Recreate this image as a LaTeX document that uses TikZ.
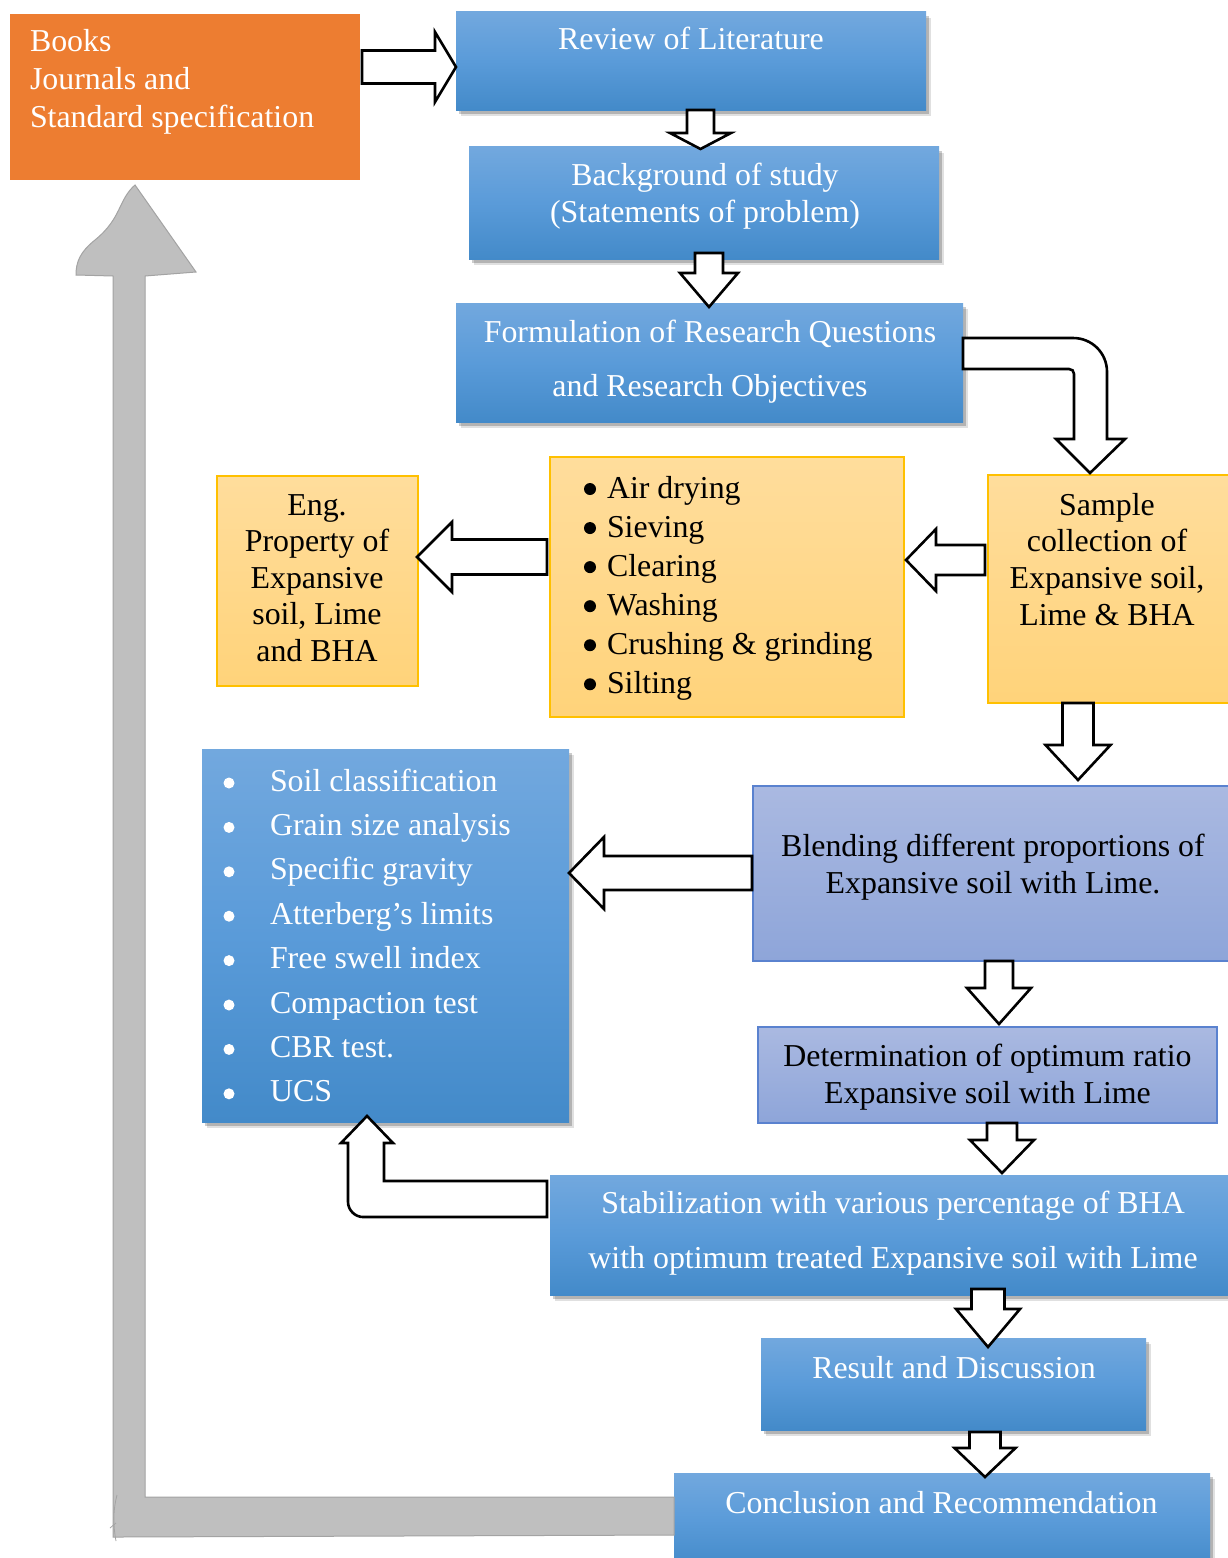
\documentclass[tikz,border=0pt]{standalone}
\usepackage{fontspec}
\setmainfont{Liberation Serif}
\usetikzlibrary{shadows,calc}
\definecolor{orng}{HTML}{ED7D31}
\definecolor{bltop}{HTML}{72A8DE}
\definecolor{blmid}{HTML}{5A9BD9}
\definecolor{blbot}{HTML}{438AC9}
\definecolor{yltop}{HTML}{FFDD9C}
\definecolor{ylbot}{HTML}{FFD37A}
\definecolor{ylborder}{HTML}{FFC000}
\definecolor{pptop}{HTML}{AAB9E1}
\definecolor{ppbot}{HTML}{8EA5D9}
\definecolor{ppborder}{HTML}{5A82CF}
\definecolor{gfill}{HTML}{BFBFBF}
\definecolor{gline}{HTML}{A3A3A3}
\newcommand\firstln{\rule{0pt}{24bp}}
\newcommand\bdot{\tikz[baseline=0pt]\fill (0pt,9bp) circle[radius=6bp];}
\newcommand\wdot{\tikz[baseline=0pt]\fill[white] (0pt,8bp) circle[radius=5.5bp];}
\newcommand\dnblock[8]{%
 \draw[blockarrow] let \p1=(#1.south), \p2=(#2.north) in
  ({(#3-#4)*1bp},{\y1-(#7)*1bp}) -- ({(#3+#4)*1bp},{\y1-(#7)*1bp})
  -- ({(#3+#4)*1bp},{\y2-(#8-#6)*1bp}) -- ({(#3+#5)*1bp},{\y2-(#8-#6)*1bp})
  -- ({#3*1bp},{\y2-(#8)*1bp}) -- ({(#3-#5)*1bp},{\y2-(#8-#6)*1bp})
  -- ({(#3-#4)*1bp},{\y2-(#8-#6)*1bp}) -- cycle;}
\newcommand\lfblock[8]{%
 \draw[blockarrow] let \p1=(#1.west), \p2=(#2.east) in
  ({\x1-(#7)*1bp},{-(#3-#4)*1bp}) -- ({\x2+(#8+#6)*1bp},{-(#3-#4)*1bp})
  -- ({\x2+(#8+#6)*1bp},{-(#3-#5)*1bp}) -- ({\x2+(#8)*1bp},{-(#3)*1bp})
  -- ({\x2+(#8+#6)*1bp},{-(#3+#5)*1bp}) -- ({\x2+(#8+#6)*1bp},{-(#3+#4)*1bp})
  -- ({\x1-(#7)*1bp},{-(#3+#4)*1bp}) -- cycle;}
\begin{document}
\begin{tikzpicture}[x=1bp,y=-1bp,
  box/.style={inner sep=0pt, outer sep=0pt},
  bluebox/.style={box, top color=bltop, bottom color=blbot, middle color=blmid,
     general shadow={shadow xshift=5bp, shadow yshift=-6bp, opacity=0.12, fill=black},
     general shadow={shadow xshift=3bp, shadow yshift=-4bp, opacity=0.2, fill=black}},
  orangebox/.style={box, fill=orng},
  yellowbox/.style={box, top color=yltop, bottom color=ylbot, draw=ylborder, line width=1.5bp},
  purplebox/.style={box, top color=pptop, bottom color=ppbot, draw=ppborder, line width=1.2bp},
  txt/.style={inner sep=0pt, outer sep=0pt, font=\fontsize{32}{38}\selectfont},
  wtext/.style={txt, text=white},
  ktext/.style={txt, text=black},
  blockarrow/.style={draw=black, line width=2.6bp, fill=white, line join=miter},
  grayarrow/.style={draw=gline, line width=1bp, fill=gfill}]
\useasboundingbox (0,0) rectangle (1227,1558);
\fill[white] (0,0) rectangle (1227,1558);

% boxes
\node[orangebox, minimum width=350bp, minimum height=166bp] (books) at (185,97) {};
\node[bluebox, minimum width=470bp, minimum height=98bp] (rev) at (691,61) {};
\node[bluebox, minimum width=470bp, minimum height=112bp] (bg) at (704,203) {};
\node[bluebox, minimum width=507bp, minimum height=119bp] (form) at (709.5,362.5) {};
\node[yellowbox, minimum width=241bp, minimum height=228bp] (sample) at (1108.5,589) {};
\node[yellowbox, minimum width=354bp, minimum height=260bp] (steps) at (727,587) {};
\node[yellowbox, minimum width=201bp, minimum height=210bp] (eng) at (317.5,581) {};
\node[purplebox, minimum width=476bp, minimum height=175bp] (blend) at (991,873.5) {};
\node[purplebox, minimum width=459bp, minimum height=96bp] (det) at (987.5,1075) {};
\node[bluebox, minimum width=367bp, minimum height=373bp] (tests) at (385.5,935.5) {};
\node[bluebox, minimum width=679bp, minimum height=120bp] (stab) at (889.5,1235) {};
\node[bluebox, minimum width=385bp, minimum height=92bp] (res) at (953.5,1384) {};
\node[bluebox, minimum width=536bp, minimum height=95bp] (concl) at (942,1520.5) {};

% texts
\node[wtext, anchor=north west, align=left] (bookst) at (30,28)
  {\firstln Books\\Journals and\\Standard specification};
\node[wtext, anchor=base] (revt) at (691,50) {Review of Literature};
\node[wtext, anchor=north, align=center] (bgt) at (705,161)
  {\firstln Background of study\\(Statements of problem)};
\node[wtext, anchor=north, align=center, font=\fontsize{32}{55}\selectfont] (formt) at (710,318)
  {\firstln Formulation of Research Questions\\and Research Objectives};
\node[ktext, anchor=north, align=center, font=\fontsize{32}{37}\selectfont] (samplet) at (1107,491)
  {\firstln Sample\\collection of\\Expansive soil,\\Lime \& BHA};
\node[ktext, anchor=north west, align=left, font=\fontsize{32}{39.2}\selectfont] (stepst) at (584,474)
  {\firstln\makebox[23bp][l]{\bdot}Air drying\\\makebox[23bp][l]{\bdot}Sieving\\\makebox[23bp][l]{\bdot}Clearing\\
   \makebox[23bp][l]{\bdot}Washing\\\makebox[23bp][l]{\bdot}Crushing \& grinding\\\makebox[23bp][l]{\bdot}Silting};
\node[ktext, anchor=north, align=center, font=\fontsize{32}{36.75}\selectfont] (engt) at (317,491)
  {\firstln Eng.\\Property of\\Expansive\\soil, Lime\\and BHA};
\node[ktext, anchor=north, align=center] (blendt) at (993,832)
  {\firstln Blending different proportions of\\Expansive soil with Lime.};
\node[ktext, anchor=north, align=center] (dett) at (987.5,1042)
  {\firstln Determination of optimum ratio\\Expansive soil with Lime};
\node[wtext, anchor=north west, align=left, font=\fontsize{32}{44.57}\selectfont] (testst) at (223.5,767)
  {\firstln\makebox[46.5bp][l]{\wdot}Soil classification\\\makebox[46.5bp][l]{\wdot}Grain size analysis\\
   \makebox[46.5bp][l]{\wdot}Specific gravity\\\makebox[46.5bp][l]{\wdot}Atterberg’s limits\\
   \makebox[46.5bp][l]{\wdot}Free swell index\\\makebox[46.5bp][l]{\wdot}Compaction test\\
   \makebox[46.5bp][l]{\wdot}CBR test.\\\makebox[46.5bp][l]{\wdot}UCS};
\node[wtext, anchor=north, align=center, font=\fontsize{32}{56}\selectfont] (stabt) at (893,1189)
  {\firstln Stabilization with various percentage of BHA\\with optimum treated Expansive soil with Lime};
\node[wtext, anchor=base] (rest) at (954,1378) {Result and Discussion};
\node[wtext, anchor=base] (conclt) at (941.5,1513) {Conclusion and Recommendation};

% feedback grey arrow
\draw[grayarrow] let \p1=(concl.west), \p2=(books.south) in
  (\x1,-1497bp) -- (145bp,-1497bp) -- (145bp,-276bp) -- (196bp,-272bp) -- (135bp,{\y2-5bp})
  .. controls (118bp,-200bp) and (122bp,-218bp) .. (95bp,-240bp)
  .. controls (80bp,-252bp) and (76bp,-262bp) .. (76bp,-275bp)
  -- (113bp,-276bp) -- (113bp,-1537bp) -- (\x1,-1535bp) -- cycle;
\draw[gline, line width=0.8bp] (117,1495) .. controls (113,1510) and (113,1525) .. (116,1541);
\draw[gline, line width=0.8bp] (110,1528) -- (116,1523);

% block arrows
\draw[blockarrow] let \p1=(books.east), \p2=(rev.west) in
  ({\x1+2bp},-50.5bp) -- (435bp,-50.5bp) -- (435bp,-32bp) -- (\x2,-67bp)
  -- (435bp,-102bp) -- (435bp,-83.5bp) -- ({\x1+2bp},-83.5bp) -- cycle;
\dnblock{rev}{bg}{700.5}{13.5}{30.5}{16}{0}{2}
\dnblock{bg}{form}{709}{14}{29}{34}{-6}{4}
\draw[blockarrow] let \p1=(form.east), \p2=(sample.north) in
  (\x1,-338bp) -- (1073bp,-338bp) .. controls (1092bp,-338bp) and (1107bp,-353bp) .. (1107bp,-372bp)
  -- (1107bp,-439bp) -- (1125bp,-439bp) -- (1090bp,{\y2+2bp}) -- (1056bp,-439bp) -- (1074bp,-439bp)
  -- (1074bp,-374bp) .. controls (1074bp,-371bp) and (1072bp,-369bp) .. (1069bp,-369bp)
  -- (\x1,-369bp) -- cycle;
\lfblock{sample}{steps}{560}{15}{31}{30}{3}{2}
\lfblock{steps}{eng}{557}{17.5}{35}{35}{3}{-1}
\dnblock{sample}{blend}{1078}{15.5}{32.5}{35}{0}{-6}
\lfblock{blend}{tests}{873}{17}{36}{35}{1}{0}
\dnblock{blend}{det}{999}{14}{32}{36}{0}{-3}
\dnblock{det}{stab}{1002}{15}{32}{33}{0}{-2}
\draw[blockarrow] let \p1=(stab.west), \p2=(tests.south) in
  ({\x1-3bp},-1181bp) -- (384bp,-1181bp) -- (384bp,-1143bp) -- (393bp,-1143bp)
  -- (367bp,{\y2+6bp}) -- (341bp,-1143bp) -- (348bp,-1143bp) -- (348bp,-1202bp)
  .. controls (348bp,-1210bp) and (355bp,-1217bp) .. (363bp,-1217bp)
  -- ({\x1-3bp},-1217bp) -- cycle;
\dnblock{stab}{res}{988}{16.5}{32}{38}{-6}{9}
\dnblock{res}{concl}{985}{15.5}{30.5}{29}{2}{4}
\end{tikzpicture}
\end{document}
